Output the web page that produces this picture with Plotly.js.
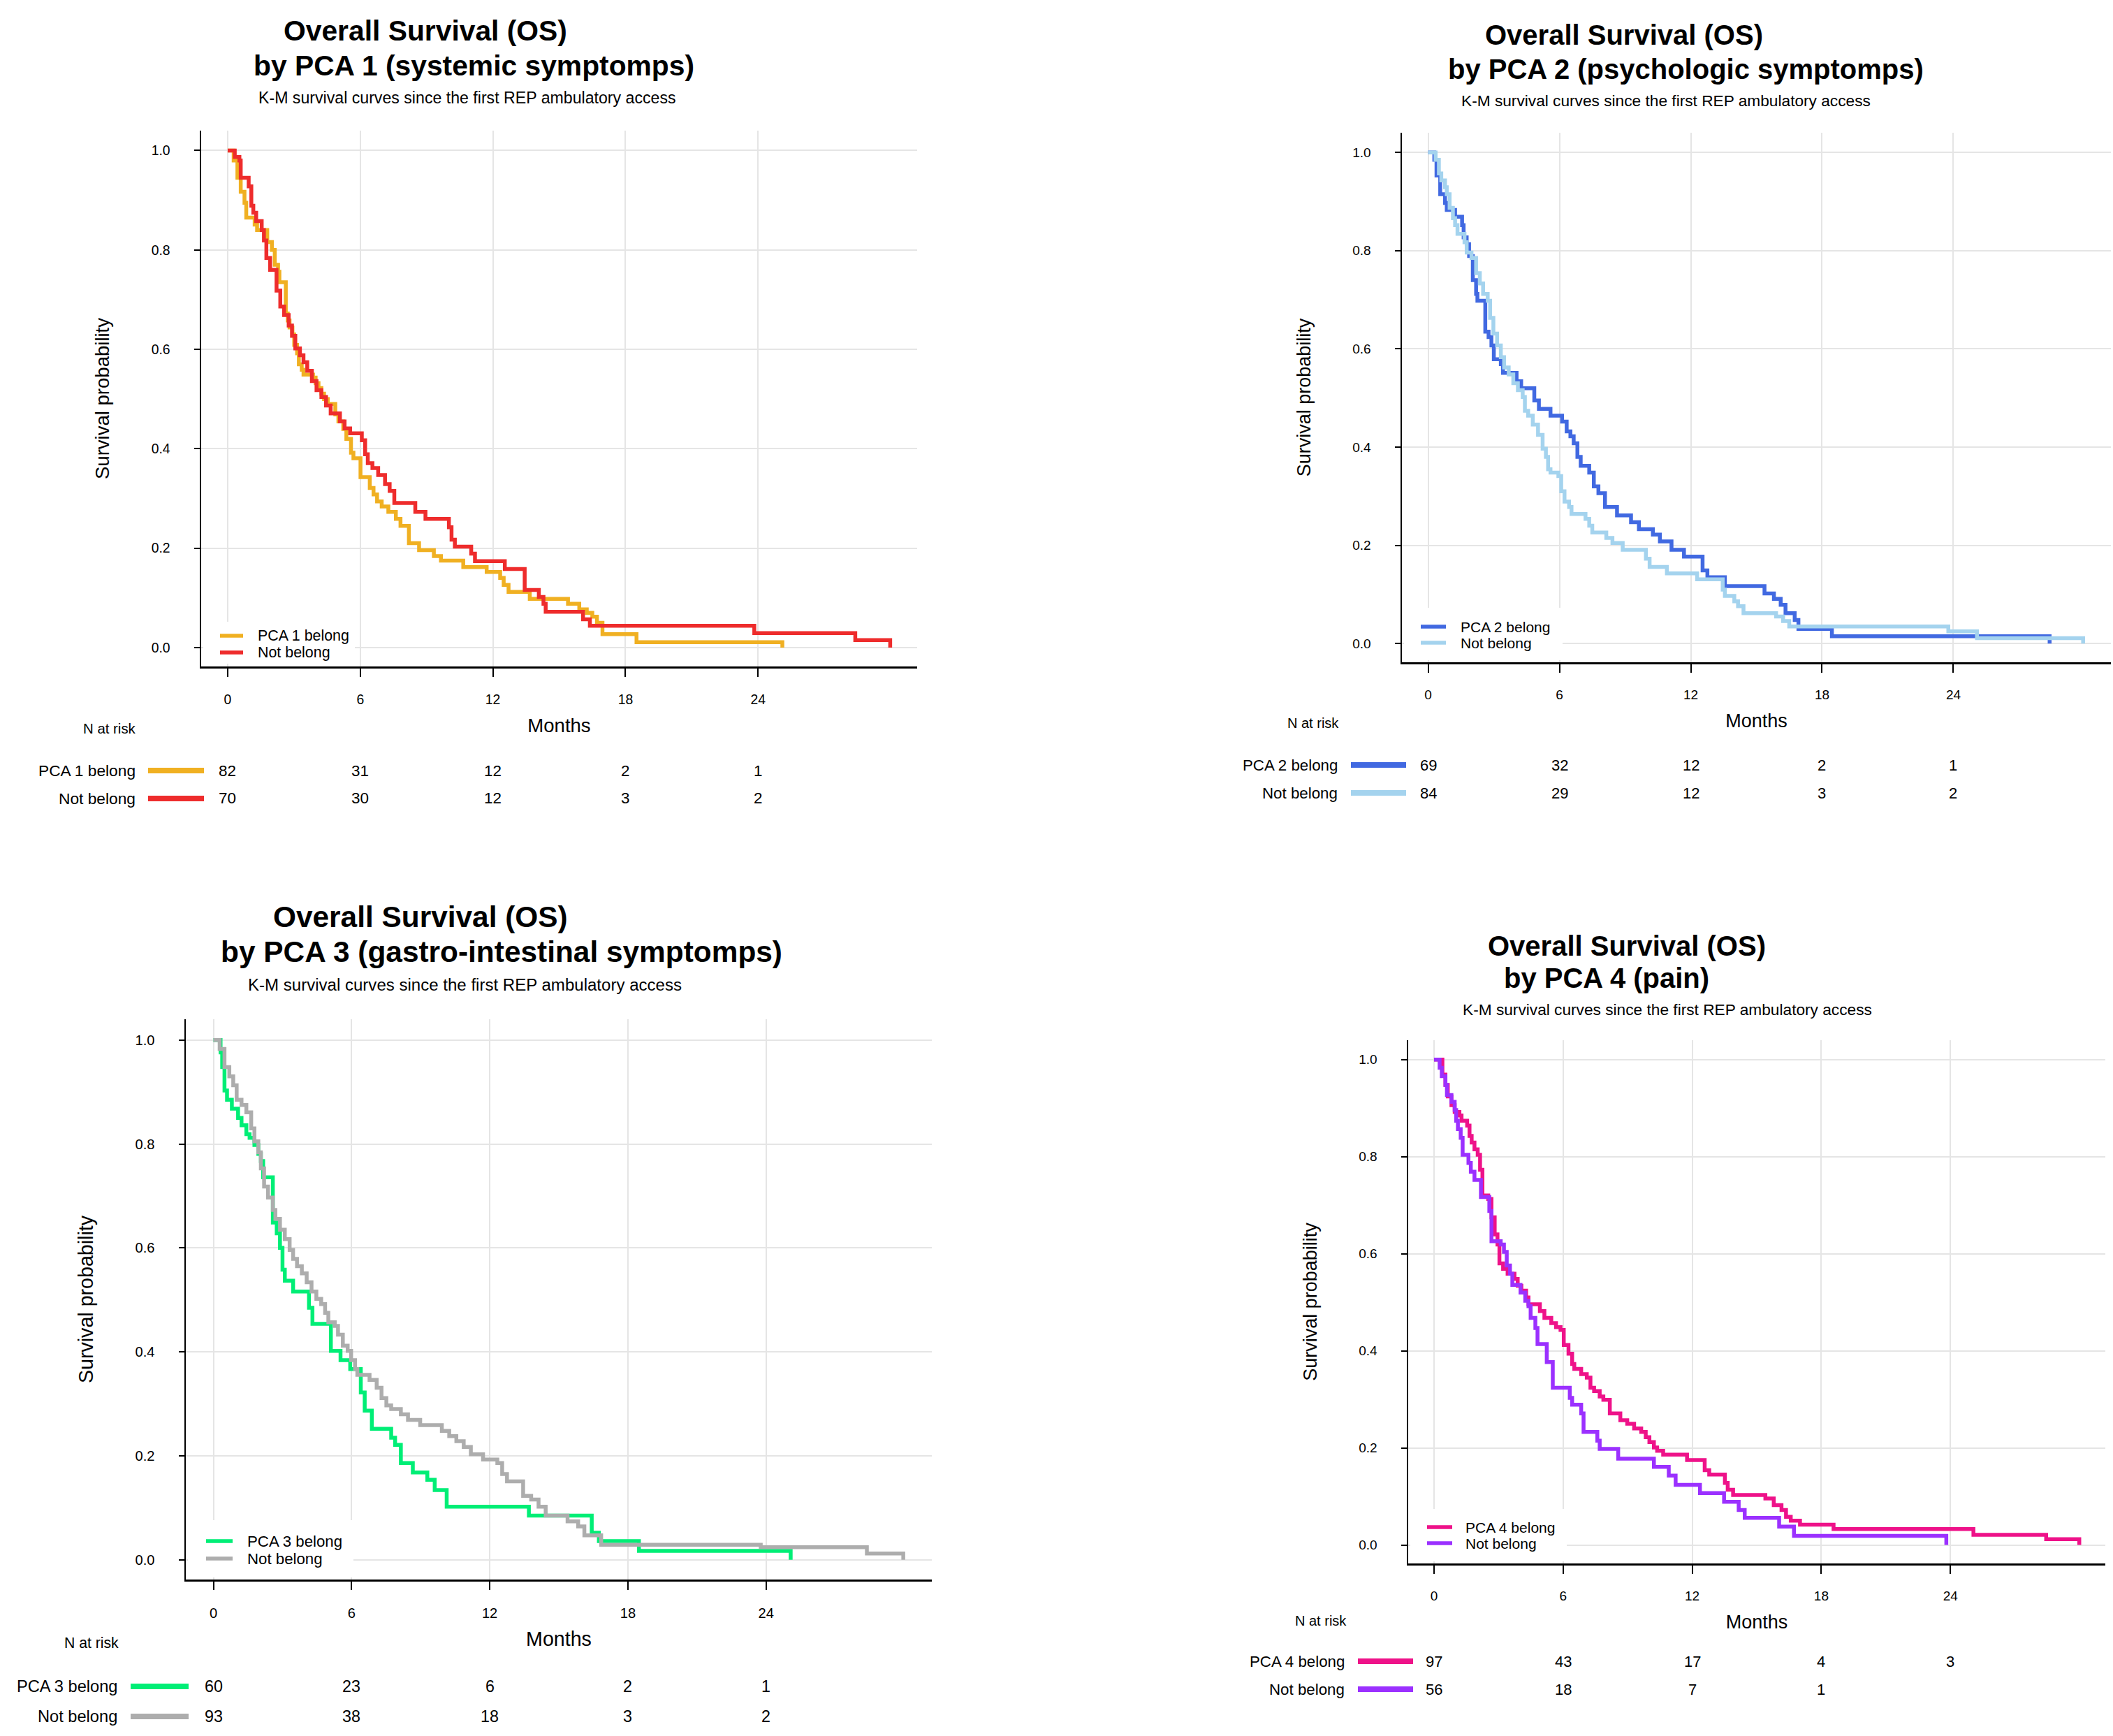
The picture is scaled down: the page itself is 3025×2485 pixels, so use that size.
<!DOCTYPE html>
<html>
<head>
<meta charset="utf-8">
<script src="https://cdn.plot.ly/plotly-3.0.1.min.js"></script>
<style>html,body{margin:0;padding:0;background:#fff;}#chart{width:3025px;height:2485px;}</style>
</head>
<body>
<div id="chart"></div>
<script>
// ---------- DATA (months, survival probability) ----------
const riskTimes = [0, 6, 12, 18, 24];
const groupNames = ["PCA 1 belong", "PCA 2 belong", "PCA 3 belong", "PCA 4 belong"];
const otherName = "Not belong";
const panelTitles = ["by PCA 1 (systemic symptomps)", "by PCA 2 (psychologic symptomps)",
                     "by PCA 3 (gastro-intestinal symptomps)", "by PCA 4 (pain)"];
const mainTitle = "Overall Survival (OS)";
const subTitle = "K-M survival curves since the first REP ambulatory access";

const p1BelongT = [0,0.27,0.44,0.59,0.76,0.84,1.22,1.33,1.79,2.00,2.13,2.28,2.34,2.63,2.72,2.80,2.93,3.01,3.14,3.22,3.35,3.43,3.86,3.98,4.11,4.24,4.36,4.53,4.87,5.01,5.23,5.37,5.58,5.69,6.01,6.43,6.60,6.76,6.97,7.27,7.61,7.82,8.20,8.66,9.33,9.65,10.66,11.72,12.33,12.49,12.71,13.67,15.40,15.91,16.25,16.50,16.71,16.96,18.50,25.10];
const p1BelongS = [1,0.98,0.945,0.917,0.895,0.865,0.851,0.840,0.816,0.800,0.770,0.756,0.735,0.672,0.658,0.644,0.630,0.609,0.592,0.570,0.559,0.549,0.543,0.532,0.522,0.511,0.500,0.490,0.469,0.455,0.440,0.420,0.392,0.381,0.343,0.321,0.308,0.294,0.284,0.273,0.259,0.245,0.210,0.196,0.184,0.175,0.162,0.152,0.140,0.126,0.112,0.098,0.088,0.077,0.070,0.062,0.050,0.027,0.011,0];
const p1NotT = [0,0.32,0.53,0.59,0.95,1.07,1.16,1.29,1.54,1.64,1.75,1.92,2.21,2.38,2.55,2.76,2.91,3.06,3.27,3.43,3.60,3.81,4.02,4.24,4.45,4.66,5.08,5.29,5.54,6.07,6.22,6.34,6.55,6.81,7.12,7.33,7.54,8.49,8.95,10.01,10.13,10.28,11.02,11.19,12.54,13.44,14.08,14.29,14.39,16.08,16.39,23.83,28.40,29.98];
const p1NotS = [1,0.987,0.980,0.945,0.928,0.889,0.875,0.858,0.840,0.819,0.784,0.760,0.718,0.686,0.669,0.648,0.627,0.602,0.588,0.574,0.557,0.536,0.518,0.504,0.487,0.471,0.455,0.441,0.431,0.417,0.389,0.371,0.361,0.347,0.329,0.315,0.291,0.273,0.259,0.242,0.217,0.203,0.189,0.174,0.158,0.116,0.102,0.088,0.072,0.057,0.044,0.029,0.015,0];

const p2BelongT = [0,0.28,0.38,0.55,0.77,0.85,1.23,1.55,1.62,1.76,1.87,2.04,2.19,2.25,2.61,2.76,2.89,3.00,3.32,3.42,4.04,4.25,4.85,5.06,5.59,6.12,6.33,6.50,6.65,6.82,6.97,7.36,7.57,7.78,8.08,8.63,9.27,9.63,10.27,10.59,11.12,11.69,12.54,12.76,13.56,15.37,15.80,16.11,16.33,16.75,16.92,18.45,28.40];
const p2BelongS = [1,0.985,0.953,0.915,0.897,0.883,0.869,0.852,0.827,0.813,0.789,0.740,0.712,0.698,0.635,0.624,0.607,0.579,0.569,0.551,0.534,0.520,0.495,0.478,0.464,0.452,0.432,0.422,0.408,0.380,0.362,0.348,0.320,0.306,0.278,0.261,0.247,0.233,0.222,0.208,0.191,0.177,0.149,0.135,0.117,0.102,0.091,0.079,0.062,0.048,0.030,0.015,0];
const p2NotT = [0,0.34,0.49,0.60,0.77,0.85,0.98,1.13,1.23,1.34,1.66,1.76,1.98,2.19,2.36,2.51,2.72,2.83,2.98,3.15,3.32,3.47,3.68,3.89,4.10,4.32,4.42,4.57,4.78,5.02,5.23,5.38,5.48,5.59,5.95,6.08,6.23,6.44,6.55,7.19,7.36,7.50,8.14,8.42,8.89,9.95,10.12,10.91,12.29,13.46,13.56,13.99,14.16,14.41,15.90,16.22,16.50,23.77,25.08,29.93];
const p2NotS = [1,0.985,0.957,0.943,0.929,0.915,0.887,0.866,0.852,0.834,0.817,0.796,0.785,0.754,0.733,0.712,0.698,0.663,0.631,0.607,0.583,0.562,0.548,0.530,0.516,0.502,0.474,0.464,0.446,0.425,0.397,0.380,0.355,0.348,0.341,0.310,0.289,0.278,0.264,0.254,0.240,0.226,0.215,0.205,0.191,0.173,0.156,0.143,0.131,0.110,0.097,0.086,0.076,0.062,0.055,0.046,0.035,0.025,0.011,0];

const p3BelongT = [0,0.31,0.38,0.48,0.59,0.80,1.07,1.22,1.43,1.57,1.78,1.95,2.06,2.16,2.58,2.75,2.89,3.00,3.10,3.46,4.15,4.30,5.10,5.52,5.94,6.40,6.57,6.88,7.72,7.89,8.14,8.66,9.29,9.61,10.13,13.70,16.43,16.74,18.48,25.07];
const p3BelongS = [1,0.976,0.948,0.903,0.885,0.868,0.850,0.836,0.819,0.812,0.798,0.781,0.767,0.736,0.649,0.628,0.600,0.558,0.537,0.516,0.485,0.454,0.402,0.384,0.367,0.322,0.287,0.252,0.235,0.221,0.186,0.168,0.154,0.134,0.102,0.085,0.052,0.036,0.017,0];
const p3NotT = [0,0.27,0.48,0.69,0.86,1.01,1.22,1.43,1.64,1.78,1.95,2.06,2.20,2.37,2.58,2.69,2.89,3.10,3.31,3.46,3.63,3.84,4.05,4.26,4.47,4.68,4.85,4.99,5.27,5.41,5.62,5.83,5.98,6.15,6.25,6.78,7.09,7.30,7.51,7.72,8.14,8.45,8.98,9.92,10.24,10.55,10.87,11.18,11.71,12.33,12.54,12.75,13.45,13.80,14.12,14.43,15.38,15.84,16.11,16.84,23.77,28.38,29.96];
const p3NotS = [1,0.983,0.948,0.930,0.913,0.885,0.875,0.861,0.830,0.805,0.784,0.753,0.718,0.697,0.673,0.656,0.635,0.617,0.596,0.579,0.565,0.551,0.534,0.516,0.502,0.492,0.475,0.457,0.450,0.433,0.412,0.402,0.384,0.367,0.356,0.346,0.331,0.311,0.297,0.290,0.280,0.269,0.259,0.248,0.238,0.228,0.217,0.203,0.193,0.186,0.165,0.151,0.123,0.116,0.102,0.085,0.074,0.064,0.047,0.029,0.024,0.012,0];

const p4BelongT = [0,0.39,0.53,0.64,0.81,0.96,1.18,1.28,1.54,1.65,1.75,1.88,2.03,2.14,2.25,2.52,2.67,2.82,2.95,3.04,3.21,3.42,3.74,3.89,4.06,4.28,4.39,4.92,5.13,5.45,5.67,5.88,6.03,6.25,6.42,6.52,6.84,7.10,7.27,7.44,7.70,7.87,8.17,8.66,8.98,9.30,9.63,9.84,10.01,10.22,10.37,10.65,11.76,12.58,12.79,13.52,13.65,13.90,15.40,15.79,16.15,16.36,16.58,17.01,18.57,25.07,28.45,29.99];
const p4BelongS = [1,0.969,0.948,0.924,0.906,0.892,0.885,0.874,0.864,0.843,0.829,0.815,0.804,0.773,0.720,0.713,0.675,0.640,0.619,0.580,0.569,0.559,0.548,0.534,0.524,0.510,0.496,0.482,0.468,0.457,0.449,0.443,0.412,0.394,0.373,0.363,0.352,0.345,0.324,0.317,0.306,0.299,0.271,0.257,0.250,0.240,0.233,0.222,0.212,0.201,0.194,0.186,0.175,0.154,0.145,0.128,0.114,0.103,0.096,0.082,0.072,0.058,0.050,0.042,0.033,0.021,0.012,0];
const p4NotT = [0,0.26,0.36,0.53,0.60,0.81,0.96,1.03,1.11,1.24,1.33,1.60,1.71,1.88,2.18,2.57,2.67,3.10,3.25,3.38,3.53,3.64,4.02,4.24,4.39,4.49,4.71,4.81,5.24,5.52,6.31,6.42,6.84,6.95,7.59,7.70,8.56,10.22,10.91,11.23,12.36,13.48,14.16,14.44,16.04,16.73,23.81];
const p4NotS = [1,0.983,0.966,0.948,0.927,0.913,0.896,0.874,0.857,0.839,0.804,0.787,0.769,0.752,0.717,0.688,0.626,0.619,0.604,0.576,0.559,0.536,0.520,0.503,0.492,0.468,0.447,0.414,0.377,0.324,0.303,0.289,0.271,0.233,0.215,0.198,0.178,0.161,0.143,0.124,0.107,0.089,0.072,0.056,0.038,0.019,0];

// number at risk at riskTimes
const p1RiskBelong = [82, 31, 12, 2, 1];
const p1RiskNot    = [70, 30, 12, 3, 2];
const p2RiskBelong = [69, 32, 12, 2, 1];
const p2RiskNot    = [84, 29, 12, 3, 2];
const p3RiskBelong = [60, 23, 6, 2, 1];
const p3RiskNot    = [93, 38, 18, 3, 2];
const p4RiskBelong = [97, 43, 17, 4, 3];
const p4RiskNot    = [56, 18, 7, 1, null];

// ---------- STYLE / LAYOUT ----------
const W = 3025, H = 2485;
const FONT = '"Liberation Sans", Arial, Helvetica, sans-serif';
const colorsBelong = ["#F0B022", "#4169E1", "#00EE76", "#EE1289"];
const colorsNot    = ["#EE2C2C", "#A4D3EE", "#ADADAD", "#9B30FF"];

// pixel positions of each panel's parts (page pixels)
const panels = [
  { t:[p1BelongT,p1BelongS,p1NotT,p1NotS], risk:[p1RiskBelong,p1RiskNot], sc:1.02,
    xd:[288,1313], yd:[187,954], t1:[609,44], t2:[678,94], st:[669,140],
    legSeg:[315,348], legTx:367, legRows:[910,934], legBox:[291,508,890,950],
    nar:[157,1043], rows:[1103,1143], labR:196, seg:[212,292] },
  { t:[p2BelongT,p2BelongS,p2NotT,p2NotS], risk:[p2RiskBelong,p2RiskNot], sc:1.0,
    xd:[2007,3022], yd:[190,948], t1:[2325,50], t2:[2413,99], st:[2385,144],
    legSeg:[2034,2070], legTx:2089, legRows:[897,920], legBox:[2010,2237,870,945],
    nar:[1880,1035], rows:[1095,1135], labR:1917, seg:[1934,2013] },
  { t:[p3BelongT,p3BelongS,p3NotT,p3NotS], risk:[p3RiskBelong,p3RiskNot], sc:1.06,
    xd:[266,1334], yd:[1459,2261], t1:[602,1312], t2:[718,1363], st:[665,1409],
    legSeg:[295,333], legTx:352, legRows:[2206,2231], legBox:[269,506,2176,2258],
    nar:[131,2351], rows:[2414,2457], labR:170, seg:[187,270] },
  { t:[p4BelongT,p4BelongS,p4NotT,p4NotS], risk:[p4RiskBelong,p4RiskNot], sc:1.0,
    xd:[2016,3014], yd:[1489,2238], t1:[2329,1354], t2:[2300,1400], st:[2387,1445],
    legSeg:[2043,2079], legTx:2096, legRows:[2186,2209], legBox:[2019,2243,2160,2235],
    nar:[1891,2320], rows:[2378,2418], labR:1927, seg:[1944,2023] }
];

const px = v => v / W;
const py = v => 1 - v / H;

const traces = [];
const annotations = [];
const shapes = [];
const layout = {
  width: W, height: H,
  margin: {l:0, r:0, t:0, b:0},
  paper_bgcolor: '#ffffff', plot_bgcolor: '#ffffff',
  font: {family: FONT, color: '#000000', size: 20},
  showlegend: false,
  annotations, shapes
};

panels.forEach((p, i) => {
  const n = i + 1, s = p.sc;
  const xa = 'xaxis' + (n === 1 ? '' : n), ya = 'yaxis' + (n === 1 ? '' : n);
  const xr = 'x' + (n === 1 ? '' : n), yr = 'y' + (n === 1 ? '' : n);

  layout[xa] = {
    domain: [px(p.xd[0]), px(p.xd[1])], anchor: yr,
    range: [-1.2, 31.2], tickvals: riskTimes, ticktext: riskTimes.map(String),
    ticks: 'outside', ticklen: 12, tickwidth: 2, tickcolor: '#000',
    showline: true, linecolor: '#000', linewidth: 2.5,
    showgrid: true, gridcolor: '#E5E5E5', gridwidth: 2, zeroline: false,
    tickfont: {size: 19 * s, color: '#000', family: FONT}, ticklabelstandoff: 16,
    title: {text: 'Months', font: {size: 27 * s, color: '#000', family: FONT}, standoff: 18},
    fixedrange: true
  };
  layout[ya] = {
    domain: [py(p.yd[1]), py(p.yd[0])], anchor: xr,
    range: [-0.038, 1.04], tickvals: [0, 0.2, 0.4, 0.6, 0.8, 1.0], tickformat: '.1f',
    ticks: 'outside', ticklen: 8, tickwidth: 2, tickcolor: '#000',
    showline: true, linecolor: '#000', linewidth: 2.5,
    showgrid: true, gridcolor: '#E5E5E5', gridwidth: 2, zeroline: false,
    tickfont: {size: 19 * s, color: '#000', family: FONT}, ticklabelstandoff: 30,
    title: {text: 'Survival probability', font: {size: 27 * s, color: '#000', family: FONT}, standoff: 52},
    fixedrange: true
  };

  const names = [groupNames[i], otherName];
  const cols = [colorsBelong[i], colorsNot[i]];
  traces.push({
    type: 'scatter', mode: 'lines', x: p.t[0], y: p.t[1], xaxis: xr, yaxis: yr,
    name: names[0], line: {shape: 'hv', color: cols[0], width: 5.5}
  });
  traces.push({
    type: 'scatter', mode: 'lines', x: p.t[2], y: p.t[3], xaxis: xr, yaxis: yr,
    name: names[1], line: {shape: 'hv', color: cols[1], width: 5.5}
  });

  // legend box inside the plot (white background, key lines, labels)
  shapes.push({type:'rect', xref:'paper', yref:'paper', layer:'above',
    x0:px(p.legBox[0]), x1:px(p.legBox[1]), y0:py(p.legBox[3]), y1:py(p.legBox[2]),
    fillcolor:'#ffffff', line:{width:0}});
  [0, 1].forEach(r => {
    const yy = py(p.legRows[r]);
    shapes.push({type:'line', xref:'paper', yref:'paper', layer:'above',
      x0:px(p.legSeg[0]), x1:px(p.legSeg[1]), y0:yy, y1:yy, line:{color: cols[r], width: 5.5}});
    annotations.push({xref:'paper', yref:'paper', x:px(p.legTx), y:yy, xanchor:'left', yanchor:'middle',
      text: names[r], showarrow:false, font:{size:21 * s, color:'#000', family:FONT}});
  });

  // titles
  annotations.push({xref:'paper', yref:'paper', x:px(p.t1[0]), y:py(p.t1[1]), xanchor:'center', yanchor:'middle',
    text: mainTitle, showarrow:false, font:{size:40 * s, weight:700, color:'#000', family:FONT}});
  annotations.push({xref:'paper', yref:'paper', x:px(p.t2[0]), y:py(p.t2[1]), xanchor:'center', yanchor:'middle',
    text: panelTitles[i], showarrow:false, font:{size:40 * s, weight:700, color:'#000', family:FONT}});
  annotations.push({xref:'paper', yref:'paper', x:px(p.st[0]), y:py(p.st[1]), xanchor:'center', yanchor:'middle',
    text: subTitle, showarrow:false, font:{size:22.7 * s, color:'#000', family:FONT}});

  // risk table
  annotations.push({xref:'paper', yref:'paper', x:px(p.nar[0]), y:py(p.nar[1]), xanchor:'center', yanchor:'middle',
    text: 'N at risk', showarrow:false, font:{size:20 * s, color:'#000', family:FONT}});
  [0, 1].forEach(r => {
    const yy = py(p.rows[r]);
    annotations.push({xref:'paper', yref:'paper', x:px(p.labR), y:yy, xanchor:'right', yanchor:'middle',
      text: names[r], showarrow:false, font:{size:22.3 * s, color:'#000', family:FONT}});
    shapes.push({type:'line', xref:'paper', yref:'paper', x0:px(p.seg[0]), x1:px(p.seg[1]), y0:yy, y1:yy,
      line:{color: cols[r], width: 8}});
    p.risk[r].forEach((v, k) => {
      if (v === null) return;
      annotations.push({xref: xr, yref:'paper', x: riskTimes[k], y: yy, xanchor:'center', yanchor:'middle',
        text: String(v), showarrow:false, font:{size:22 * s, color:'#000', family:FONT}});
    });
  });
});

Plotly.newPlot('chart', traces, layout, {staticPlot: true, displayModeBar: false});
</script>
</body>
</html>
